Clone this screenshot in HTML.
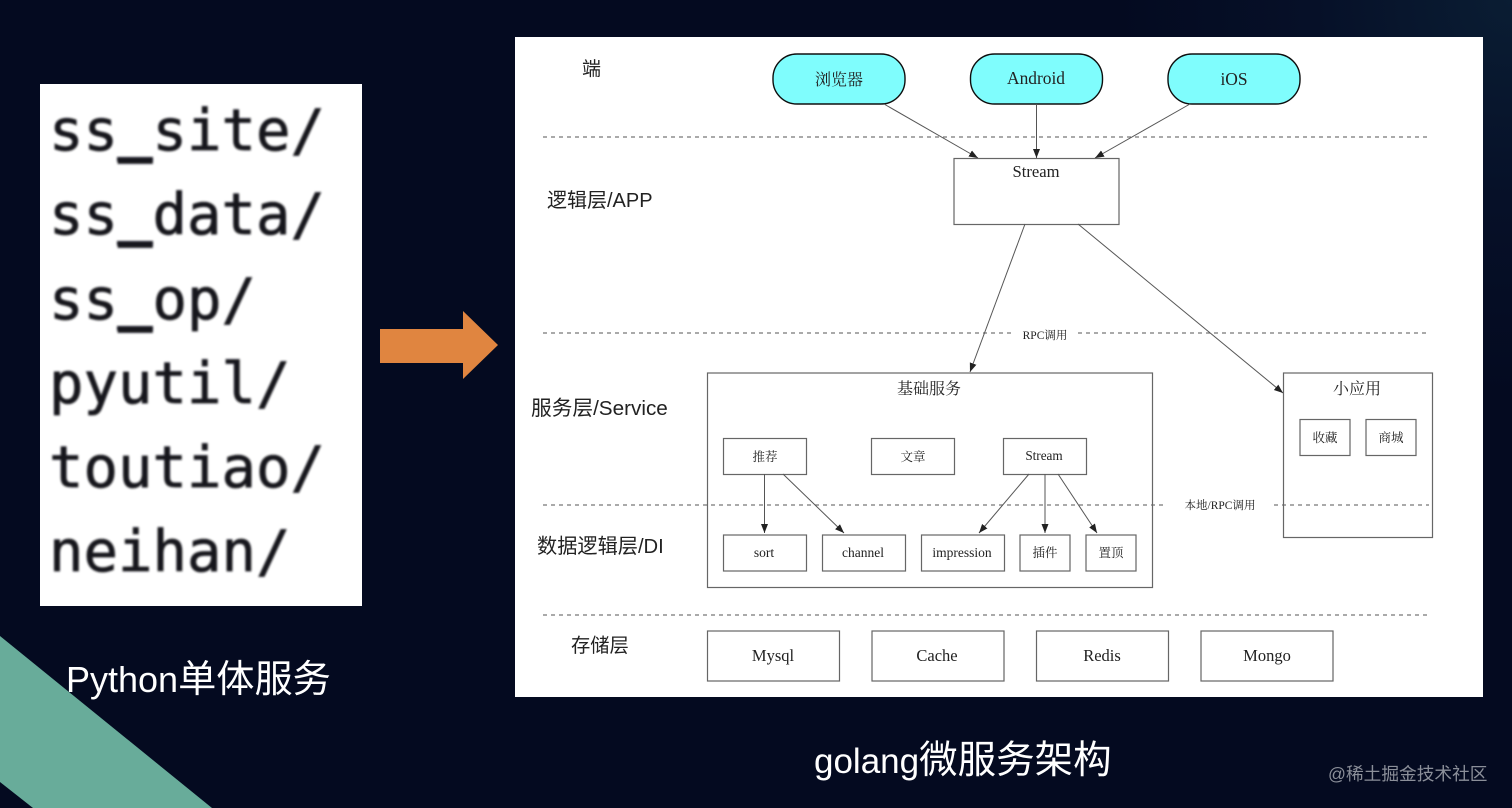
<!DOCTYPE html>
<html lang="zh">
<head>
<meta charset="utf-8">
<style>
html,body{margin:0;padding:0;width:1512px;height:808px;overflow:hidden;background:#040a20}
svg{display:block}
.m{font-family:"DejaVu Sans Mono","Liberation Mono",monospace;font-size:57.3px;fill:#15151a;stroke:#15151a;stroke-width:.7}
.s{font-family:"Liberation Serif","Noto Serif CJK SC",serif;fill:#222;text-anchor:middle}
.h{font-family:"Liberation Sans","Noto Sans CJK SC",sans-serif;fill:#222}
.w{font-family:"Liberation Sans","Noto Sans CJK SC",sans-serif;fill:#fff}
.b{fill:none;stroke:#666;stroke-width:1.2}
.d{stroke:#777;stroke-width:1.2;stroke-dasharray:4 4;fill:none}
.l{stroke:#555;stroke-width:1;fill:none;marker-end:url(#a)}
.p{fill:#7ffdfd;stroke:#111;stroke-width:1.4}
</style>
</head>
<body>
<svg width="1512" height="808" viewBox="0 0 1512 808" xmlns="http://www.w3.org/2000/svg">
<defs>
<marker id="a" markerUnits="userSpaceOnUse" markerWidth="10" markerHeight="8" refX="9" refY="3.5" orient="auto"><path d="M0 0L9 3.5L0 7z" fill="#222"/></marker>
<radialGradient id="bg" gradientUnits="userSpaceOnUse" cx="1512" cy="0" r="400"><stop offset="0" stop-color="#0a1d33"/><stop offset=".5" stop-color="#061028"/><stop offset="1" stop-color="#040a20"/></radialGradient>
<filter id="bl"><feGaussianBlur stdDeviation="1"/></filter>
<filter id="sb"><feGaussianBlur stdDeviation="0.35"/></filter>
</defs>
<rect width="1512" height="808" fill="#040a20"/>
<rect x="1000" y="0" width="512" height="420" fill="url(#bg)"/>
<polygon points="0,636 212,808 33,808 0,782" fill="#68ac9a"/>

<rect x="40" y="84" width="322" height="522" fill="#fff"/>
<g filter="url(#bl)">
<g class="m">
<text x="49" y="150">ss_site/</text>
<text x="49" y="234">ss_data/</text>
<text x="49" y="319">ss_op/</text>
<text x="49" y="403">pyutil/</text>
<text x="49" y="487">toutiao/</text>
<text x="49" y="571">neihan/</text>
</g>
<rect x="117" y="157" width="36" height="4.500" fill="#15151a"/>
<rect x="117" y="241" width="36" height="4.500" fill="#15151a"/>
<rect x="117" y="326" width="36" height="4.500" fill="#15151a"/>
</g>

<polygon points="380,329 463,329 463,311 498,345 463,379 463,363 380,363" fill="#e08540"/>

<text class="w" x="66" y="692" font-size="36" filter="url(#sb)">Python<tspan font-size="38.200">单体服务</tspan></text>
<text class="w" x="814" y="773" font-size="35" filter="url(#sb)">golang<tspan font-size="38.500">微服务架构</tspan></text>
<text x="1328" y="780" font-size="17.700" fill="#8b8f99" font-family="'Liberation Sans','Noto Sans CJK SC',sans-serif">@稀土掘金技术社区</text>

<rect x="515" y="37" width="968" height="660" fill="#fff"/>

<g filter="url(#sb)">
<line class="d" x1="543" y1="137" x2="1429" y2="137"/>
<line class="d" x1="543" y1="333" x2="1012" y2="333"/>
<line class="d" x1="1078" y1="333" x2="1429" y2="333"/>
<line class="d" x1="543" y1="505" x2="1166" y2="505"/>
<line class="d" x1="1274" y1="505" x2="1429" y2="505"/>
<line class="d" x1="543" y1="615" x2="1429" y2="615"/>

<rect class="p" x="773" y="54" width="132" height="50" rx="24"/>
<rect class="p" x="970.500" y="54" width="132" height="50" rx="24"/>
<rect class="p" x="1168" y="54" width="132" height="50" rx="24"/>
<text class="s" x="839" y="85" font-size="16">浏览器</text>
<text class="s" x="1036" y="84" font-size="17.400">Android</text>
<text class="s" x="1234" y="85" font-size="17.400">iOS</text>

<rect class="b" x="954" y="158.500" width="165" height="66"/>
<text class="s" x="1036" y="177" font-size="16.600">Stream</text>

<line class="l" x1="884" y1="104" x2="978" y2="158"/>
<line class="l" x1="1036.500" y1="104" x2="1036.500" y2="158"/>
<line class="l" x1="1190" y1="104" x2="1095" y2="158"/>
<line class="l" x1="1025" y1="224" x2="970" y2="372"/>
<line class="l" x1="1078" y1="224" x2="1283" y2="393"/>

<rect class="b" x="707.500" y="373" width="445" height="214.500"/>
<text class="s" x="929" y="394" font-size="16">基础服务</text>
<rect class="b" x="723.500" y="438.500" width="83" height="36"/>
<rect class="b" x="871.500" y="438.500" width="83" height="36"/>
<rect class="b" x="1003.500" y="438.500" width="83" height="36"/>
<rect class="b" x="723.500" y="535" width="83" height="36"/>
<rect class="b" x="822.500" y="535" width="83" height="36"/>
<rect class="b" x="921.500" y="535" width="83" height="36"/>
<rect class="b" x="1020" y="535" width="50" height="36"/>
<rect class="b" x="1086" y="535" width="50" height="36"/>
<text class="s" x="765" y="461" font-size="12.500">推荐</text>
<text class="s" x="913" y="461" font-size="12.500">文章</text>
<text class="s" x="1044" y="460" font-size="13.200">Stream</text>
<text class="s" x="764" y="557" font-size="13.500">sort</text>
<text class="s" x="863" y="557" font-size="13.500">channel</text>
<text class="s" x="962" y="557" font-size="13.500">impression</text>
<text class="s" x="1045" y="557" font-size="12.500">插件</text>
<text class="s" x="1111" y="557" font-size="12.500">置顶</text>

<line class="l" x1="764.500" y1="474" x2="764.500" y2="533"/>
<line class="l" x1="783" y1="474" x2="844" y2="533"/>
<line class="l" x1="1029" y1="474" x2="979" y2="533"/>
<line class="l" x1="1045" y1="474" x2="1045" y2="533"/>
<line class="l" x1="1058" y1="474" x2="1097" y2="533"/>

<rect class="b" x="1283.500" y="373" width="149" height="164.500"/>
<text class="s" x="1357" y="394" font-size="16">小应用</text>
<rect class="b" x="1300" y="419.500" width="50" height="36"/>
<rect class="b" x="1366" y="419.500" width="50" height="36"/>
<text class="s" x="1325" y="442" font-size="12.500">收藏</text>
<text class="s" x="1391" y="442" font-size="12.500">商城</text>

<text class="s" x="1045" y="339" font-size="11.500" fill="#444">RPC调用</text>
<text class="s" x="1220" y="509" font-size="11.500" fill="#444">本地/RPC调用</text>

<rect class="b" x="707.500" y="631" width="132" height="50"/>
<rect class="b" x="872" y="631" width="132" height="50"/>
<rect class="b" x="1036.500" y="631" width="132" height="50"/>
<rect class="b" x="1201" y="631" width="132" height="50"/>
<text class="s" x="773" y="661" font-size="16.500">Mysql</text>
<text class="s" x="937" y="661" font-size="16.500">Cache</text>
<text class="s" x="1102" y="661" font-size="16.500">Redis</text>
<text class="s" x="1267" y="661" font-size="16.500">Mongo</text>

<text class="h" x="582" y="75" font-size="19">端</text>
<text class="h" x="547" y="207" font-size="20">逻辑层/APP</text>
<text class="h" x="531" y="415" font-size="20.700">服务层/Service</text>
<text class="h" x="537" y="553" font-size="20.200">数据逻辑层/DI</text>
<text class="h" x="571" y="652" font-size="19.300">存储层</text>
</g>
</svg>
</body>
</html>
